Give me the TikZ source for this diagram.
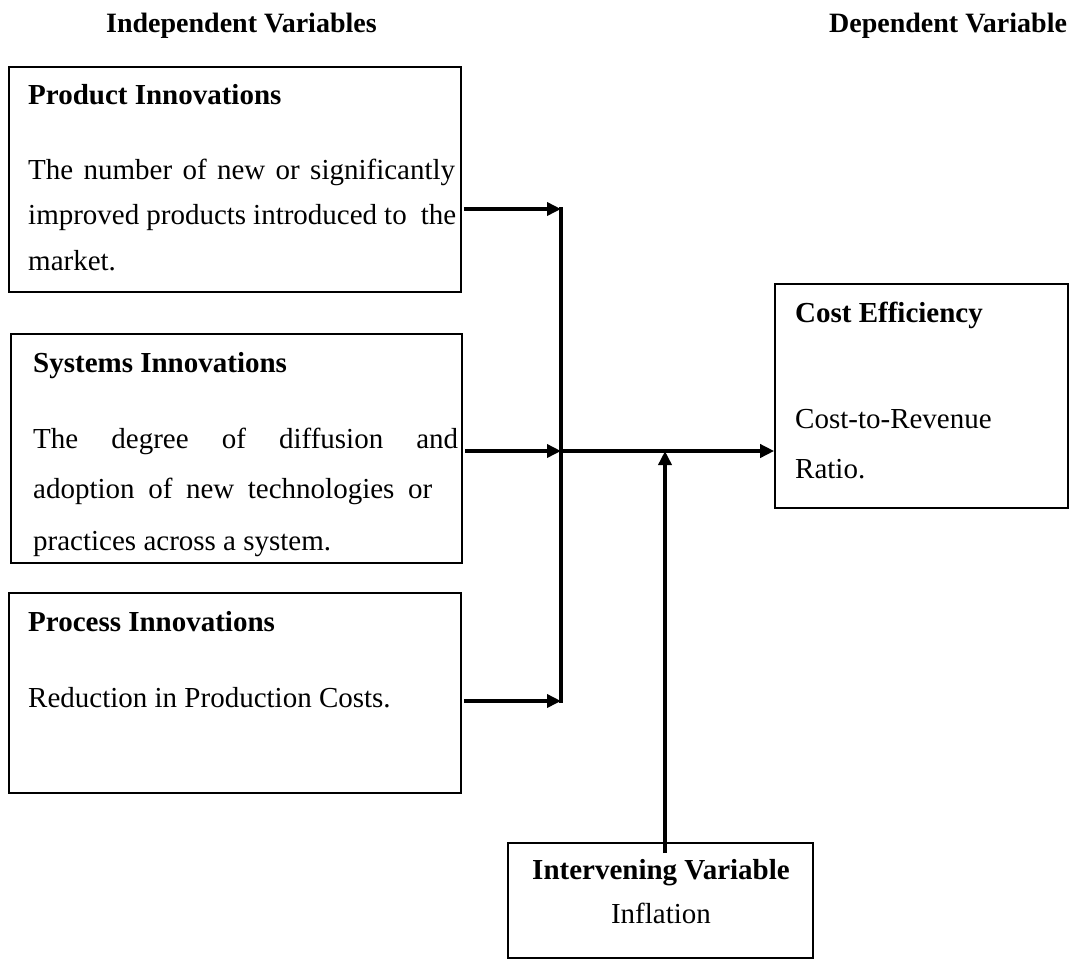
\documentclass[tikz,border=0pt]{standalone}
\usepackage{fontspec}
\setmainfont{Liberation Serif}
\usetikzlibrary{arrows.meta,fit}
\begin{document}
\begin{tikzpicture}[x=1pt,y=-1pt,
  box/.style={draw=black, line width=1.6pt, inner sep=0pt},
  txt/.style={anchor=base west, inner sep=0pt, font=\fontsize{29}{34}\selectfont},
  hd/.style={anchor=base west, inner sep=0pt, font=\fontsize{29}{34}\selectfont\bfseries},
  ttl/.style={anchor=base west, inner sep=0pt, font=\fontsize{28}{33}\selectfont\bfseries},
  ctr/.style={anchor=base, inner sep=0pt, font=\fontsize{29}{34}\selectfont},
  arr/.style={line width=3.5pt, -{Triangle[length=14pt,width=13pt]}},
  ln/.style={line width=3.5pt}]
\useasboundingbox (0,0) rectangle (1081,959);
% titles
\node[ttl] (t1) at (106,32) {Independent Variables};
\node[ttl] (t2) at (829,32) {Dependent Variable};
% boxes
\node[box, fit={(9,67) (461,292)}] (b1) {};
\node[box, fit={(11,334) (462,563)}] (b2) {};
\node[box, fit={(9,593) (461,793)}] (b3) {};
\node[box, fit={(775,284) (1068,508)}] (b4) {};
\node[box, fit={(508,843) (813,958)}] (b5) {};
% box 1 text
\node[hd] (h1) at (28,104) {Product Innovations};
\node[txt] (p1a) at (28,179) {\makebox[427pt][s]{The number of new or significantly}};
\node[txt] (p1b) at (28,224) {\makebox[428pt][s]{improved products introduced to\ \ the}};
\node[txt] (p1c) at (28,270) {market.};
% box 2 text
\node[hd] (h2) at (33,372) {Systems Innovations};
\node[txt] (p2a) at (33,448) {\makebox[425pt][s]{The degree of diffusion and}};
\node[txt] (p2b) at (33,498) {\makebox[399pt][s]{adoption of new technologies or}};
\node[txt] (p2c) at (33,550) {practices across a system.};
% box 3 text
\node[hd] (h3) at (28,631) {Process Innovations};
\node[txt] (p3a) at (28,707) {Reduction in Production Costs.};
% box 4 text
\node[hd] (h4) at (795,322) {Cost Efficiency};
\node[txt] (p4a) at (795,428) {Cost-to-Revenue};
\node[txt] (p4b) at (795,478) {Ratio.};
% box 5 text
\node[ctr, font=\fontsize{29}{34}\selectfont\bfseries] (h5) at (661,879) {Intervening Variable};
\node[ctr] (p5a) at (661,923) {Inflation};
% connectors
\coordinate (j1) at (561,209);
\coordinate (j2) at (561,451);
\coordinate (j3) at (561,701);
\coordinate (k) at (665,451);
\coordinate (k0) at (665,853);
\draw[arr, shorten <=2pt] (b1.east |- j1) -- (j1);
\draw[arr, shorten <=2pt] (b2.east |- j2) -- (j2);
\draw[arr, shorten <=2pt] (b3.east |- j3) -- (j3);
\draw[ln] ([yshift=1.75pt]j1) -- ([yshift=-1.75pt]j3);
\draw[arr] (j2) -- (b4.west |- j2);
\draw[arr] (k0) -- (k);
\end{tikzpicture}
\end{document}
